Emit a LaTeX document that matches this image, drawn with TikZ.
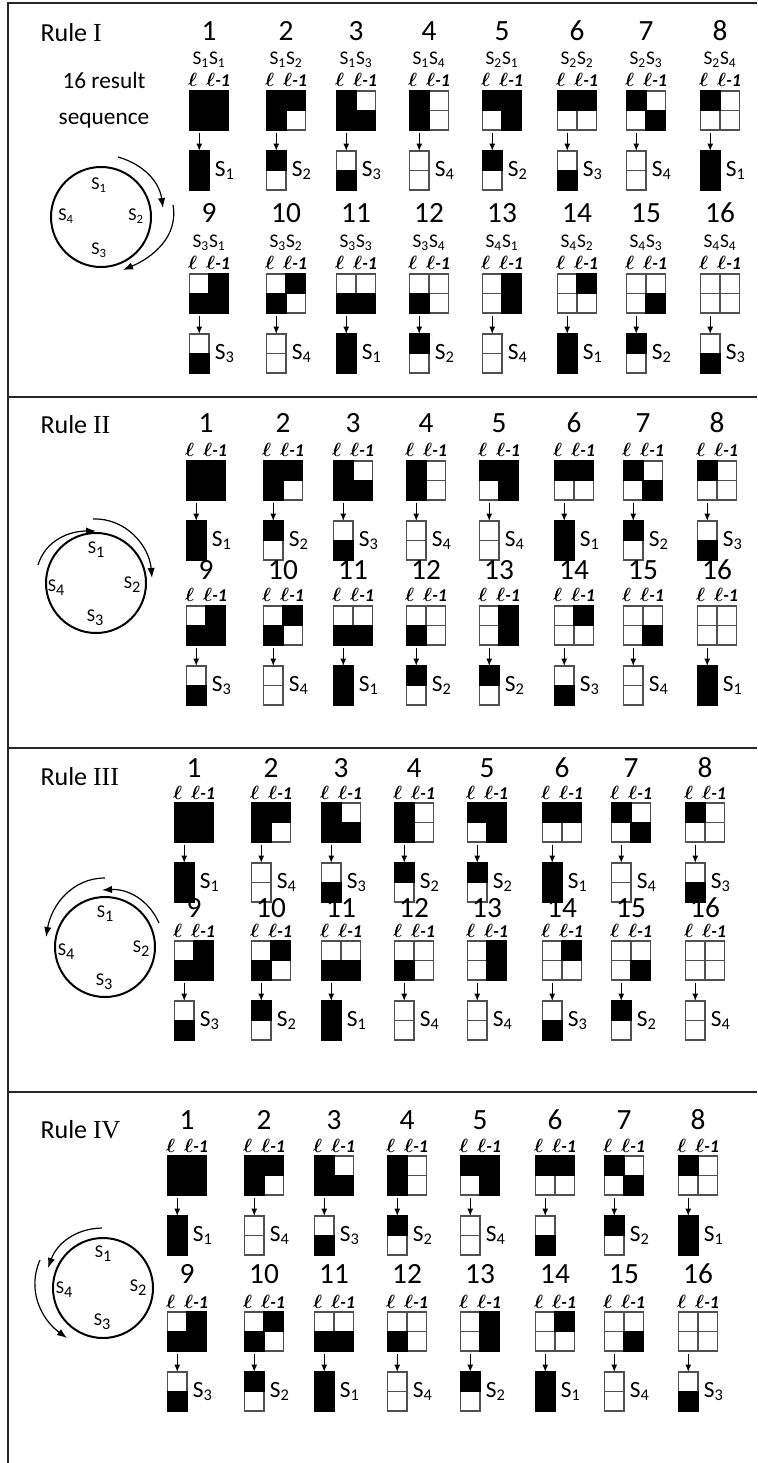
\documentclass[tikz,border=0pt]{standalone}
\usepackage{fontspec}
\setmainfont{Carlito}
\newfontfamily\numeralfont{Liberation Serif}
\usetikzlibrary{arrows.meta}

\definecolor{boxgray}{RGB}{80,80,80}

\tikzset{every picture/.style={line width=0.75pt}}
\tikzset{
  frame/.style={line width=1.1pt, draw=black!85},
  sqbox/.style={draw=boxgray, fill=white, line width=0.9pt, minimum width=29.25pt, minimum height=29.25pt, inner sep=0pt, outer sep=0pt},
  resbox/.style={draw=boxgray, fill=white, line width=0.9pt, minimum width=14.6pt, minimum height=29.25pt, inner sep=0pt, outer sep=0pt},
  blk/.style={fill=black, draw=black, line width=0.9pt},
  grid/.style={draw=boxgray, line width=0.9pt},
  tinyarrow/.style={-{Latex[length=5.5pt,width=4.5pt]}, line width=1pt, shorten <=2pt},
  turnarrow/.style={-{Latex[length=7.5pt,width=5.5pt]}, line width=0.9pt},
  ring/.style={line width=1.5pt},
  numlbl/.style={font=\fontsize{22}{24}\selectfont, inner sep=0pt, text height=0.63em, text depth=0pt},
  pairlbl/.style={font=\fontsize{14.5}{16}\selectfont, inner sep=0pt, text height=0.64em, text depth=0.1em},
  elllbl/.style={font=\fontsize{13.5}{15}\selectfont\bfseries\itshape\boldmath, inner sep=0pt, text height=0.68em, text depth=0pt},
  reslbl/.style={font=\fontsize{17.5}{19}\selectfont, inner sep=0pt, anchor=west},
  rulelbl/.style={font=\fontsize{19.5}{22}\selectfont, inner sep=0pt, anchor=west},
  ringlbl/.style={font=\fontsize{13.5}{15}\selectfont, inner sep=0pt},
}

% column centres of the 8 cells of a row
\def\colx{209,286,356,429,502,577,646,720}
\newcommand{\lowsub}[1]{\raisebox{-0.45ex}{\scalebox{0.9}{#1}}}

% #1 panel, #2 x shift, #3/#4 top of squares in row 1/2, #5 results,
% #6/#9 number offset in row 1/2, #7 ell offset, #8 show state pairs
\newcommand{\rulepanel}[9]{%
  \foreach \i in {1,...,16}{
    \pgfmathtruncatemacro{\cc}{mod(\i-1,8)}
    \pgfmathtruncatemacro{\rr}{\i>8}
    \pgfmathsetmacro{\xx}{{\colx}[\cc]+(#2)}
    \pgfmathsetmacro{\yy}{\rr==0 ? #3 : #4}
    \pgfmathsetmacro{\ny}{\rr==0 ? #3+(#6) : #4+(#9)}
    \pgfmathtruncatemacro{\sa}{floor((\i-1)/4)+1}
    \pgfmathtruncatemacro{\sb}{mod(\i-1,4)+1}
    \pgfmathtruncatemacro{\res}{{#5}[\i-1]}
    \pgfmathtruncatemacro{\resabs}{abs(\res)}
    % Text Node
    \node[numlbl] (nm#1-\i) at (\xx,\ny) {\i};
    \ifnum#8=1 \node[pairlbl] (pr#1-\i) at (\xx,\yy-30) {S\textsubscript{\sa}S\textsubscript{\sb}};\fi
    \node[elllbl] (el#1-\i) at (\xx,\yy+#7) {$\ell$\,\,\,$\ell$-1};
    %Shape: Square
    \node[sqbox] (sq#1-\i) at (\xx,\yy+19.5) {};
    \draw[grid] (sq#1-\i.north) -- (sq#1-\i.south) (sq#1-\i.west) -- (sq#1-\i.east);
    \ifnum\sa<3 \filldraw[blk] (sq#1-\i.north west) rectangle (sq#1-\i.center);\fi
    \ifodd\sa \filldraw[blk] (sq#1-\i.west) rectangle (sq#1-\i.south);\fi
    \ifnum\sb<3 \filldraw[blk] (sq#1-\i.north) rectangle (sq#1-\i.east);\fi
    \ifodd\sb \filldraw[blk] (sq#1-\i.center) rectangle (sq#1-\i.south east);\fi
    %Shape: Rectangle
    \node[resbox] (rs#1-\i) at (\xx-9.75,\yy+79.5) {};
    \draw[grid] (rs#1-\i.west) -- (rs#1-\i.east);
    \ifnum\resabs<3 \filldraw[blk] (rs#1-\i.north west) rectangle (rs#1-\i.east);\fi
    \ifodd\resabs \filldraw[blk] (rs#1-\i.west) rectangle (rs#1-\i.south east);\fi
    \ifnum\res>0 \node[reslbl] (lb#1-\i) at ([xshift=4pt]rs#1-\i.east) {S\textsubscript{\res}};\fi
    \draw[tinyarrow] (sq#1-\i.south -| rs#1-\i.north) -- (rs#1-\i.north);
  }
}

\begin{document}
\begin{tikzpicture}[x=0.75pt,y=0.75pt,yscale=-1,xscale=1]
\useasboundingbox (0,0) rectangle (757,1463);

%Shape: Frame
\draw[frame] (757,3) -- (8,3) -- (8,1463);
\draw[frame] (8,397) -- (757,397);
\draw[frame] (8,748) -- (757,748);
\draw[frame] (8,1092) -- (757,1092);

% Rule I
\node[rulelbl] (rule1) at (40,33) {Rule {\numeralfont I}};
\node[font=\fontsize{17.5}{27}\selectfont, align=center] (seq) at (104,100) {16 result\\sequence};
\draw[ring] (101,217) circle [radius=50];
\node[ringlbl] (c1-1) at (99,185) {S\textsubscript{1}};
\node[ringlbl] (c1-2) at (136,216) {S\textsubscript{2}};
\node[ringlbl] (c1-3) at (99,250) {S\textsubscript{3}};
\node[ringlbl] (c1-4) at (66,216) {S\textsubscript{4}};
\draw[turnarrow] (118,157) to[out=16,in=-98] (163,208);
\draw[turnarrow] (173,205) to[out=80,in=-23] (123,270);
\rulepanel{1}{0}{91}{274}{1,2,3,4,2,3,4,1,3,4,1,2,4,1,2,3}{-55}{-9}{1}{-56}

% Rule II
\node[rulelbl] (rule2) at (40,425) {Rule {\numeralfont II}};
\draw[ring] (96,583) circle [radius=50];
\node[ringlbl] (c2-1) at (96,550) {S\lowsub{1}};
\node[ringlbl] (c2-2) at (132,585) {S\lowsub{2}};
\node[ringlbl] (c2-3) at (95,618) {S\lowsub{3}};
\node[ringlbl] (c2-4) at (56,588) {S\lowsub{4}};
\draw[turnarrow] (38,565) to[out=-73,in=180] (96,531);
\draw[turnarrow] (93,519) to[out=-2,in=-95] (152,578);
\rulepanel{2}{-3}{461}{606}{1,2,3,4,4,1,2,3,3,4,1,2,2,3,4,1}{-33}{-9}{0}{-31}

% Rule III
\node[rulelbl] (rule3) at (40,777) {Rule {\numeralfont III}};
\draw[ring] (105,947) circle [radius=50];
\node[ringlbl] (c3-1) at (105,914) {S\lowsub{1}};
\node[ringlbl] (c3-2) at (141,949) {S\lowsub{2}};
\node[ringlbl] (c3-3) at (104,982) {S\lowsub{3}};
\node[ringlbl] (c3-4) at (66,952) {S\lowsub{4}};
\draw[turnarrow] (105,878) to[out=180,in=-80] (46,937);
\draw[turnarrow] (159,923) to[out=-114,in=-3] (102,890);
\rulepanel{3}{-15}{803}{941}{1,4,3,2,2,1,4,3,3,2,1,4,4,3,2,4}{-30}{-8}{0}{-28}

% Rule IV
\node[rulelbl] (rule4) at (40,1130) {Rule {\numeralfont IV}};
\draw[ring] (103,1288) circle [radius=50];
\node[ringlbl] (c4-1) at (103,1254) {S\lowsub{1}};
\node[ringlbl] (c4-2) at (138,1288) {S\lowsub{2}};
\node[ringlbl] (c4-3) at (102,1322) {S\lowsub{3}};
\node[ringlbl] (c4-4) at (64,1290) {S\lowsub{4}};
\draw[turnarrow] (102,1228) to[out=179,in=-70] (48,1268);
\draw[turnarrow] (40,1260) to[out=114,in=-144] (67,1338);
\rulepanel{4}{-22}{1156}{1312}{1,4,3,2,4,-3,2,1,3,2,1,4,2,1,4,3}{-31}{-8}{0}{-33}

\end{tikzpicture}
\end{document}
